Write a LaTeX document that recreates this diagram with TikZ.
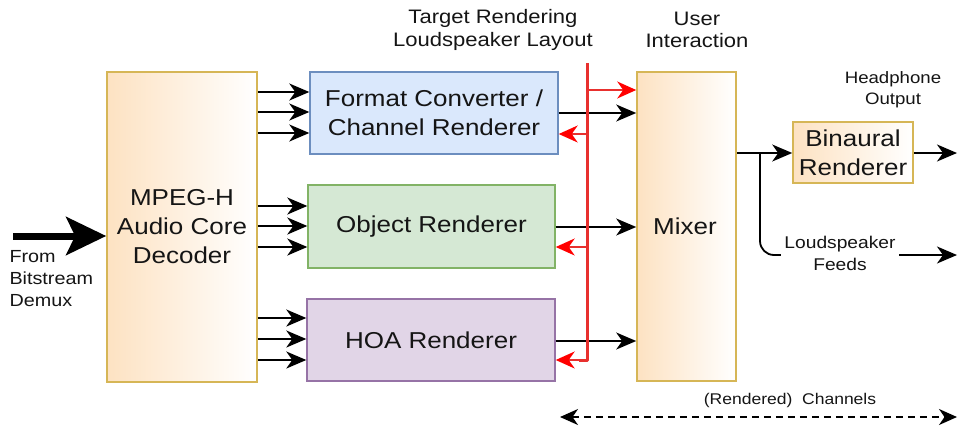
\documentclass[tikz,border=0pt]{standalone}
\usepackage{fontspec}
\setmainfont{Liberation Sans}[FakeStretch=1.13]
\usetikzlibrary{arrows.meta,calc}
\definecolor{gold}{HTML}{D6B656}
\definecolor{orangel}{HTML}{FDE2C2}
\definecolor{fcfill}{HTML}{DAE8FC}
\definecolor{fcdraw}{HTML}{6C8EBF}
\definecolor{objfill}{HTML}{D5E8D4}
\definecolor{objdraw}{HTML}{82B366}
\definecolor{hoafill}{HTML}{E1D5E7}
\definecolor{hoadraw}{HTML}{9673A6}
\definecolor{redline}{HTML}{E8302E}
\definecolor{txt}{HTML}{151515}
\begin{document}
\begin{tikzpicture}[x=1pt,y=-1pt,
  big/.style={font=\fontsize{23}{29}\selectfont, text=txt, align=center},
  small/.style={font=\fontsize{19.5}{22.5}\selectfont, text=txt, align=center},
  tiny/.style={font=\fontsize{17.5}{22}\selectfont, text=txt, align=center},
  goldbox/.style={big, draw=gold, line width=1.6pt, left color=orangel, right color=white, shading angle=90, inner sep=0pt},
  fcbox/.style={big, draw=fcdraw, fill=fcfill, line width=1.4pt, inner sep=0pt},
  objbox/.style={big, draw=objdraw, fill=objfill, line width=1.4pt, inner sep=0pt},
  hoabox/.style={big, draw=hoadraw, fill=hoafill, line width=1.4pt, inner sep=0pt},
  arr/.style={line width=1.8pt, -{Stealth[length=20pt,width=17pt,inset=6pt]}},
  redarr/.style={draw=redline, line width=1.5pt, -{Stealth[length=19pt,width=17pt,inset=6pt,color=red]}},
]
\useasboundingbox (0,0) rectangle (958,426);
\fill[white] (0,0) rectangle (958,426);

% blocks
\node[goldbox, minimum width=150pt, minimum height=310pt] (dec) at (182,227) {MPEG-H\\Audio Core\\Decoder};
\node[fcbox, minimum width=248pt, minimum height=82pt] (fc) at (434,113) {Format Converter /\\Channel Renderer};
\node[objbox, minimum width=247pt, minimum height=83pt] (obj) at (431.5,226.5) {Object Renderer};
\node[hoabox, minimum width=248pt, minimum height=82pt] (hoa) at (431,340) {HOA Renderer};
\node[goldbox, minimum width=99pt, minimum height=309pt] (mix) at (686.5,226.5) {};
\node[big] at (685,226) {Mixer};
\node[goldbox, minimum width=120pt, minimum height=61pt, inner sep=0pt] (bin) at (853,152.5) {Binaural\\Renderer};

% labels
\node[small] (trl) at (493,30) {Target Rendering\\Loudspeaker Layout};
\node[small] (ui) at (697,30) {User\\Interaction};
\node[tiny, font=\fontsize{16.5}{21}\selectfont] (hpo) at (893,90) {Headphone\\Output};
\node[tiny, font=\fontsize{17}{22}\selectfont] (lsf) at (840,253) {Loudspeaker\\Feeds};
\node[tiny, align=left, anchor=north west] (from) at (6,247) {From\\Bitstream\\Demux};
\node[tiny, font=\fontsize{15.5}{19}\selectfont] (rch) at (790,400) {(Rendered)\ \ Channels};

% input
\coordinate (inp) at (13,236);
\draw[line width=7pt, -{Stealth[length=40pt,width=38pt,inset=9pt]}] (inp) -- (dec.west |- inp);

% decoder to renderers
\foreach \yy in {92,112,133} \draw[arr] (dec.east |- 0,\yy) -- (fc.west |- 0,\yy);
\foreach \yy in {206,226,247} \draw[arr] (dec.east |- 0,\yy) -- (obj.west |- 0,\yy);
\foreach \yy in {318,339,360} \draw[arr] (dec.east |- 0,\yy) -- (hoa.west |- 0,\yy);

% renderers to mixer
\draw[arr] (fc.east |- 0,113) -- (mix.west |- 0,113);
\draw[arr] (obj.east |- 0,227) -- (mix.west |- 0,227);
\draw[arr] (hoa.east |- 0,341) -- (mix.west |- 0,341);

% red layout line
\coordinate (rtop) at (587,63);
\draw[redline, line width=3pt, line join=round] (rtop) -- (rtop |- 0,360) -- ($(rtop |- 0,360)+(-8,0)$);
\draw[redarr] (rtop |- 0,90) -- (mix.west |- 0,90);
\draw[redarr] (rtop |- 0,134) -- (fc.east |- 0,134);
\draw[redarr] (rtop |- 0,247) -- (obj.east |- 0,247);
\draw[redarr] (rtop |- 0,360) -- (hoa.east |- 0,360);

% mixer outputs
\coordinate (br) at (760,153);
\coordinate (hpend) at (957,153);
\coordinate (lsend) at (957,255);
\draw[arr] (mix.east |- br) -- (bin.west |- br);
\draw[line width=1.8pt, rounded corners=14pt] (br) -- (br |- lsend) -- (lsf.west |- lsend);
\draw[arr] (lsf.east |- lsend) -- (lsend);
\draw[arr] (bin.east |- hpend) -- (hpend);

% rendered channels
\coordinate (cl) at (560,417);
\coordinate (cr) at (957,417);
\draw[line width=1.7pt, dash pattern=on 7pt off 5pt, {Stealth[length=18pt,width=16pt,inset=5.5pt]}-{Stealth[length=18pt,width=16pt,inset=5.5pt]}] (cl) -- (cr);
\end{tikzpicture}
\end{document}
